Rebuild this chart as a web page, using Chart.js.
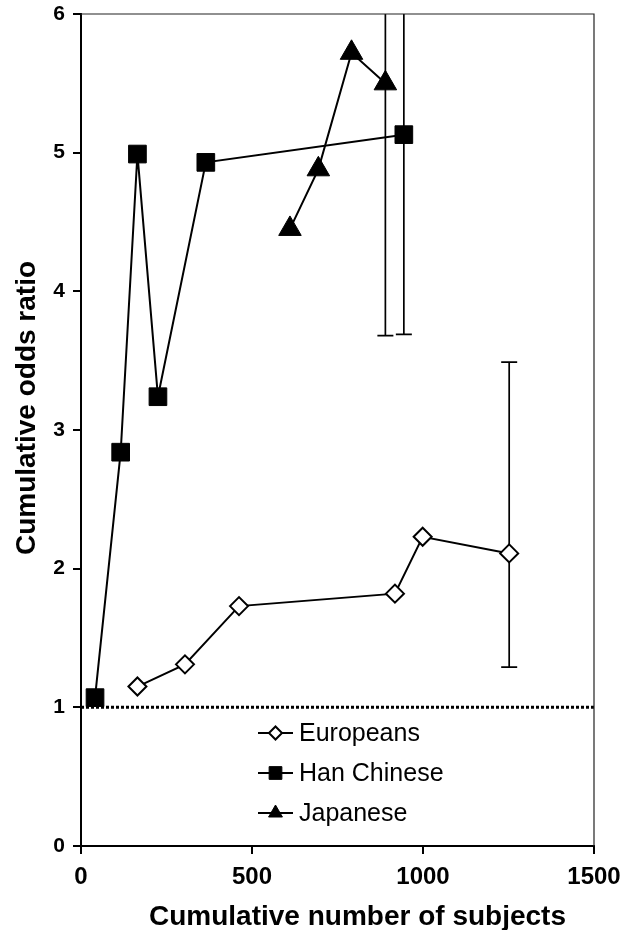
<!DOCTYPE html>
<html>
<head>
<meta charset="utf-8">
<title>Cumulative odds ratio</title>
<script src="https://cdn.jsdelivr.net/npm/chart.js@4.4.0/dist/chart.umd.min.js"></script>
<style>
  html, body { margin: 0; padding: 0; background: #fff; }
  #wrap { width: 627px; height: 930px; }
</style>
</head>
<body>
<div id="wrap"><canvas id="orChart" width="627" height="930"></canvas></div>
<script>
// Cumulative number of subjects (x) and cumulative odds ratio (y), per population
const euroN = [165, 304, 462, 918, 999, 1252];
const euroOR = [1.15, 1.31, 1.73, 1.82, 2.23, 2.11];
const hanN = [41, 116, 165, 225, 365, 944];
const hanOR = [1.07, 2.84, 4.99, 3.24, 4.93, 5.13];
const japN = [611, 694, 791, 890];
const japOR = [4.45, 4.88, 5.72, 5.50];

// 95% CI of the last cumulative estimate (upper ends of Asian bars run off the plot)
const ciN = [890, 944, 1252];
const ciLow = [3.68, 3.69, 1.29];
const ciHigh = [7.5, 7.5, 3.49];

// OR = 1 reference line
const refN = [0, 1500];
const refOR = [1, 1];

const xTicks = [0, 500, 1000, 1500];
const yTicks = [0, 1, 2, 3, 4, 5, 6];

const FONT = "'Liberation Sans', Arial, Helvetica, sans-serif";
Chart.defaults.font.family = FONT;
Chart.defaults.color = '#000';

const toPoints = (xs, ys) => xs.map((v, i) => ({ x: v, y: ys[i] }));

// error bars, clipped to the plot area
const errorBars = {
  id: 'errorBars',
  beforeDatasetsDraw(chart) {
    const { ctx, chartArea: a, scales: { x, y } } = chart;
    ctx.save();
    ctx.beginPath();
    ctx.rect(a.left, a.top, a.right - a.left, a.bottom - a.top);
    ctx.clip();
    ctx.strokeStyle = '#000';
    ctx.lineWidth = 1.7;
    ciN.forEach((n, i) => {
      const px = x.getPixelForValue(n);
      const lo = y.getPixelForValue(ciLow[i]);
      const hi = y.getPixelForValue(ciHigh[i]);
      ctx.beginPath();
      ctx.moveTo(px, lo); ctx.lineTo(px, hi);
      ctx.moveTo(px - 8, lo); ctx.lineTo(px + 8, lo);
      ctx.moveTo(px - 8, hi); ctx.lineTo(px + 8, hi);
      ctx.stroke();
    });
    ctx.restore();
  }
};

// thin top and right frame
const frame = {
  id: 'frame',
  afterDraw(chart) {
    const { ctx, chartArea: a } = chart;
    ctx.save();
    ctx.strokeStyle = '#222';
    ctx.lineWidth = 1.2;
    ctx.beginPath();
    ctx.moveTo(a.left, a.top);
    ctx.lineTo(a.right, a.top);
    ctx.lineTo(a.right, a.bottom);
    ctx.stroke();
    ctx.restore();
  }
};

// axis titles, a little off the plot centre as in the original figure
const axisTitles = {
  id: 'axisTitles',
  afterDraw(chart, args, opts) {
    const { ctx, chartArea: a } = chart;
    ctx.save();
    ctx.font = opts.font;
    ctx.fillStyle = '#000';
    ctx.textAlign = 'center';
    ctx.textBaseline = 'alphabetic';
    ctx.fillText(opts.x, (a.left + a.right) / 2 + opts.xShift, opts.xBaseline);
    ctx.translate(opts.yBaseline, (a.top + a.bottom) / 2 + opts.yShift);
    ctx.rotate(-Math.PI / 2);
    ctx.fillText(opts.y, 0, 0);
    ctx.restore();
  }
};

// line + marker legend inside the plot
const lineLegend = {
  id: 'lineLegend',
  afterDraw(chart, args, opts) {
    const { ctx } = chart;
    const items = chart.data.datasets.filter(d => d.label);
    ctx.save();
    ctx.font = opts.font;
    ctx.textBaseline = 'middle';
    items.forEach((ds, i) => {
      const y = opts.y + i * opts.spacing;
      ctx.strokeStyle = '#000';
      ctx.lineWidth = 2;
      ctx.beginPath();
      ctx.moveTo(opts.x, y);
      ctx.lineTo(opts.x + opts.lineLength, y);
      ctx.stroke();
      ctx.fillStyle = ds.pointBackgroundColor;
      ctx.lineWidth = ds.pointBorderWidth;
      Chart.helpers.drawPoint(ctx, {
        pointStyle: ds.pointStyle,
        radius: opts.radius[i],
        rotation: 0,
        borderWidth: ds.pointBorderWidth
      }, opts.x + opts.lineLength / 2, y);
      ctx.fillStyle = '#000';
      ctx.fillText(ds.label, opts.x + opts.lineLength + 6, y + 1);
    });
    ctx.restore();
  }
};

const axisStyle = {
  grid: { drawOnChartArea: false, drawTicks: true, tickLength: 8, color: '#000', lineWidth: 2 },
  border: { display: true, color: '#000', width: 2 }
};

new Chart(document.getElementById('orChart'), {
  type: 'line',
  data: {
    datasets: [
      {
        label: 'Europeans',
        data: toPoints(euroN, euroOR),
        borderColor: '#000',
        borderWidth: 2,
        pointStyle: 'rectRot',
        pointRadius: 9,
        pointBackgroundColor: '#fff',
        pointBorderColor: '#000',
        pointBorderWidth: 2
      },
      {
        label: 'Han Chinese',
        data: toPoints(hanN, hanOR),
        borderColor: '#000',
        borderWidth: 2,
        pointStyle: 'rect',
        pointRadius: 12.5,
        pointBackgroundColor: '#000',
        pointBorderColor: '#000',
        pointBorderWidth: 1
      },
      {
        label: 'Japanese',
        data: toPoints(japN, japOR),
        borderColor: '#000',
        borderWidth: 2,
        pointStyle: 'triangle',
        pointRadius: 13,
        pointBackgroundColor: '#000',
        pointBorderColor: '#000',
        pointBorderWidth: 1
      },
      {
        data: toPoints(refN, refOR),
        borderColor: '#000',
        borderWidth: 3,
        borderDash: [3, 2],
        pointRadius: 0
      }
    ]
  },
  options: {
    responsive: false,
    devicePixelRatio: 1,
    animation: false,
    layout: { padding: { top: 14, right: 33, left: 0, bottom: 0 } },
    plugins: {
      legend: { display: false },
      tooltip: { enabled: false },
      lineLegend: {
        x: 258, y: 733, spacing: 40, lineLength: 35,
        radius: [6.5, 9, 8],
        font: '25px ' + FONT
      },
      axisTitles: {
        x: 'Cumulative number of subjects',
        y: 'Cumulative odds ratio',
        font: 'bold 28px ' + FONT,
        xShift: 20, xBaseline: 925,
        yShift: -22, yBaseline: 35
      }
    },
    scales: {
      x: {
        type: 'linear',
        min: xTicks[0],
        max: xTicks[xTicks.length - 1],
        afterBuildTicks: s => { s.ticks = xTicks.map(v => ({ value: v })); },
        afterFit: s => { s.height = 84; s.paddingLeft = 0; s.paddingRight = 0; },
        ticks: { font: { size: 24, weight: 'bold' }, padding: 9, color: '#000', callback: v => String(v) },
        ...axisStyle
      },
      y: {
        type: 'linear',
        min: yTicks[0],
        max: yTicks[yTicks.length - 1],
        afterBuildTicks: s => { s.ticks = yTicks.map(v => ({ value: v })); },
        afterFit: s => { s.width = 81; s.paddingTop = 0; s.paddingBottom = 0; },
        ticks: { font: { size: 21, weight: 'bold' }, padding: 8, color: '#000', callback: v => String(v) },
        ...axisStyle
      }
    }
  },
  plugins: [errorBars, frame, axisTitles, lineLegend]
});
</script>
</body>
</html>
